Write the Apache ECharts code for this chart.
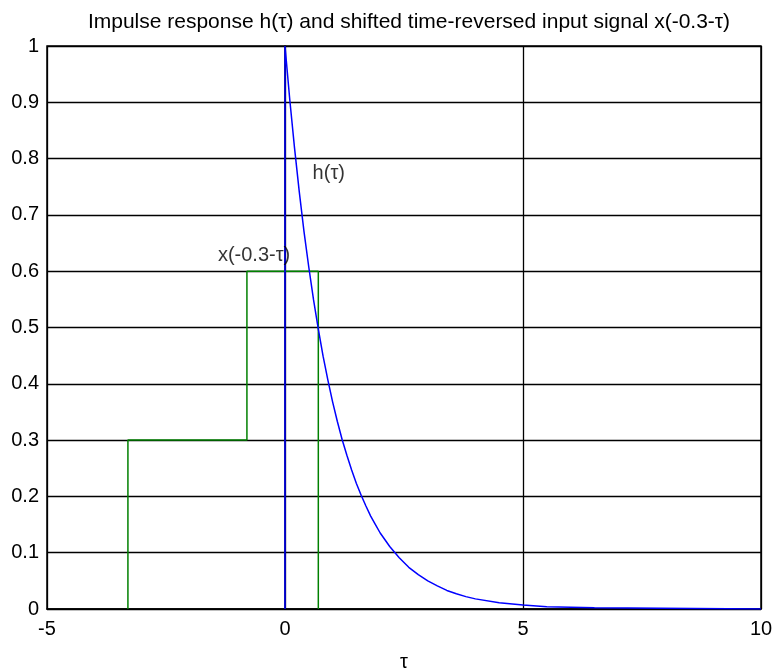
<!DOCTYPE html>
<html>
<head>
<meta charset="utf-8">
<script src="https://cdn.jsdelivr.net/npm/echarts@6/dist/echarts.min.js"></script>
<style>
  html, body { margin: 0; padding: 0; background: #fff; }
  #chart { width: 772px; height: 668px; }
</style>
</head>
<body>
<div id="chart"></div>
<script>
const chartDom = document.getElementById("chart");
const chart = echarts.init(chartDom, null, { renderer: "canvas" });

// impulse response h(tau)
const hTau = [0, 0, 0.1, 0.2, 0.3, 0.4, 0.5, 0.6, 0.7, 0.8, 0.9, 1.0, 1.1, 1.2, 1.3, 1.4, 1.5,
  1.6, 1.7, 1.8, 1.9, 2.0, 2.2, 2.4, 2.6, 2.8, 3.0, 3.2, 3.4, 3.6, 3.8, 4.0, 4.5, 5.0, 5.5,
  6.0, 6.5, 6.5, 10];
const hVal = [0, 1, 0.905, 0.819, 0.741, 0.67, 0.607, 0.549, 0.497, 0.449, 0.407, 0.368,
  0.333, 0.301, 0.273, 0.247, 0.223, 0.202, 0.183, 0.165, 0.15, 0.135, 0.111, 0.091, 0.074,
  0.061, 0.05, 0.041, 0.033, 0.027, 0.022, 0.018, 0.011, 0.007, 0.004, 0.003, 0.002, 0, 0];

// shifted time-reversed input x(-0.3-tau)
const xTau = [-3.3, -3.3, -0.8, -0.8, 0.7, 0.7];
const xVal = [0, 0.3, 0.3, 0.6, 0.6, 0];

const xTicks = [-5, 0, 5, 10];
const yTicks = ["0", "0.1", "0.2", "0.3", "0.4", "0.5", "0.6", "0.7", "0.8", "0.9", "1"];

const textLabels = [
  { name: "h(\u03c4)", pos: [0.58, 0.755] },
  { name: "x(-0.3-\u03c4)", pos: [-1.41, 0.61] },
];

const font = "Liberation Sans, Arial, sans-serif";

function zip(a, b) {
  return a.map((v, i) => [v, b[i]]);
}

const option = {
  animation: false,
  backgroundColor: "#fff",
  title: {
    text: "Impulse response h(\u03c4) and shifted time-reversed input signal x(-0.3-\u03c4)",
    left: 404,
    textAlign: "center",
    top: 7,
    textStyle: { fontFamily: font, fontSize: 21, fontWeight: "normal", color: "#000" },
  },
  grid: {
    left: 47,
    right: 11,
    top: 46,
    bottom: 59,
    outerBoundsMode: "none",
    show: true,
    borderColor: "#000",
    borderWidth: 1.5,
  },
  xAxis: {
    type: "value",
    min: -5,
    max: 10,
    interval: 5,
    name: "\u03c4",
    nameLocation: "middle",
    nameGap: 43,
    nameTextStyle: { fontFamily: font, fontSize: 20, color: "#000" },
    axisLine: { show: true, lineStyle: { color: "#000", width: 1.5 } },
    axisTick: { show: false },
    axisLabel: {
      margin: 10,
      fontFamily: font,
      fontSize: 20,
      color: "#000",
      formatter: (v) => (xTicks.includes(v) ? String(v) : ""),
    },
    splitLine: { show: true, lineStyle: { color: "#000", width: 1.3 } },
  },
  yAxis: {
    type: "value",
    min: 0,
    max: 1,
    interval: 0.1,
    axisLine: { show: true, lineStyle: { color: "#000", width: 1.5 } },
    axisTick: { show: false },
    axisLabel: {
      margin: 8,
      fontFamily: font,
      fontSize: 20,
      color: "#000",
      formatter: (v) => yTicks[Math.round(v * 10)],
    },
    splitLine: { show: true, lineStyle: { color: "#000", width: 1.3 } },
  },
  series: [
    {
      name: "x",
      type: "line",
      data: zip(xTau, xVal),
      showSymbol: false,
      lineStyle: { color: "#008000", width: 1.5 },
      z: 3,
    },
    {
      name: "h",
      type: "line",
      data: zip(hTau, hVal),
      showSymbol: false,
      lineStyle: { color: "#0000ff", width: 1.5 },
      z: 4,
    },
    {
      name: "labels",
      type: "scatter",
      symbolSize: 0,
      data: textLabels.map((t) => ({ name: t.name, value: t.pos })),
      label: {
        show: true,
        position: [0, 0],
        align: "left",
        verticalAlign: "bottom",
        formatter: (p) => p.name,
        fontFamily: font,
        fontSize: 20,
        color: "#000",
      },
      z: 5,
    },
  ],
};

chart.setOption(option);
</script>
</body>
</html>
